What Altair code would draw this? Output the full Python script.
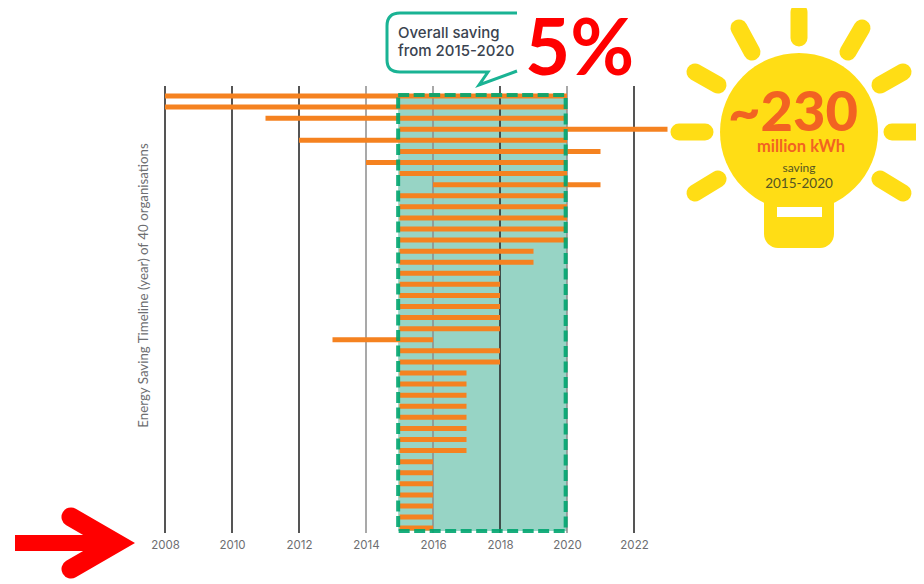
import altair as alt
import pandas as pd

# ---- values ----
rows = list(range(1, 41))
start_years = [2008, 2008, 2011, 2015, 2012, 2015, 2014, 2015, 2016, 2015,
               2015, 2015, 2015, 2015, 2015, 2015, 2015, 2015, 2015, 2015,
               2015, 2015, 2013, 2015, 2015, 2015, 2015, 2015, 2015, 2015,
               2015, 2015, 2015, 2015, 2015, 2015, 2015, 2015, 2015, 2015]
end_years = [2020, 2020, 2020, 2023, 2020, 2021, 2020, 2020, 2021, 2020,
             2020, 2020, 2020, 2020, 2019, 2019, 2018, 2018, 2018, 2018,
             2018, 2018, 2016, 2018, 2018, 2017, 2017, 2017, 2017, 2017,
             2017, 2017, 2017, 2016, 2016, 2016, 2016, 2016, 2016, 2016]
tick_years = [2008, 2010, 2012, 2014, 2016, 2018, 2020, 2022]
heavy_years = [2008, 2010, 2012, 2022]
light_years = [2014, 2016, 2020]
dark_years = [2018]
window_start = [2014.96]
window_end = [2019.96]
window_top = [0.91]
window_bottom = [40.26]

bars = pd.DataFrame({"row": rows, "start": start_years, "end": end_years})
window = pd.DataFrame({"a": window_start, "b": window_end, "t": window_top, "u": window_bottom})

PAD_L, PAD_T = 157, 78
W, H = 502.5, 447
ORANGE = "#f58220"
TEAL = "#97d4c5"
YELLOW = "#ffdd15"
HOT = "#f26322"
FONT = "Lato"

xs = alt.Scale(domain=[2008, 2023], nice=False, zero=False)
ys = alt.Scale(domain=[0.097, 40.44], nice=False, zero=False, reverse=True)
xaxis = alt.Axis(values=tick_years, format="d", title=None, grid=False, ticks=False, domain=False,
                 labelFont="Inter", labelFontSize=11.5, labelColor="#6d6e71", labelPadding=6, labelBaseline="top",
                 labelFlush=False, labelOverlap=False)
yaxis = alt.Axis(title="Energy Saving Timeline (year) of 40 organisations", labels=False, ticks=False,
                 domain=False, grid=False, titleX=-15, titleY=199, titleFont=FONT, titleFontSize=13.3,
                 titleFontWeight="normal", titleColor="#6d6e71", titleAngle=270, titleBaseline="bottom")


def px(v):
    return v - 8 - PAD_L


def py(v):
    return v - 8 - PAD_T


def grid(years, color, width):
    return alt.Chart(pd.DataFrame({"year": years})).mark_rule(color=color, strokeWidth=width).encode(
        x=alt.X("year:Q", scale=xs, axis=xaxis))


def seg(x1, y1, x2, y2, color, width, cap="round"):
    return alt.Chart().mark_rule(color=color, strokeWidth=width, strokeCap=cap).encode(
        x=alt.value(px(x1)), x2=alt.value(px(x2)), y=alt.value(py(y1)), y2=alt.value(py(y2)))


def box(x1, y1, x2, y2, color, radius=0):
    return alt.Chart().mark_rect(color=color, cornerRadius=radius).encode(
        x=alt.value(px(x1)), x2=alt.value(px(x2)), y=alt.value(py(y1)), y2=alt.value(py(y2)))


def label(txt, x, y, size, color, weight="normal", align="center", font=FONT):
    return alt.Chart().mark_text(text=txt, fontSize=size, color=color, fontWeight=weight, align=align,
                                 baseline="alphabetic", font=font).encode(
        x=alt.value(px(x)), y=alt.value(py(y)))


def path(d, x, y, color, width, **kw):
    return alt.Chart().mark_point(shape=d, size=4, filled=False, stroke=color, strokeWidth=width, opacity=1, **kw).encode(
        x=alt.value(px(x)), y=alt.value(py(y)))


shade = alt.Chart(window).mark_rect(color=TEAL).encode(
    x=alt.X("a:Q", scale=xs, axis=xaxis), x2=alt.value(px(567)),
    y=alt.Y("t:Q", scale=ys, axis=yaxis), y2="u:Q")

bar_layer = alt.Chart(bars).mark_rule(color=ORANGE, strokeWidth=5).encode(
    x=alt.X("start:Q", scale=xs, axis=xaxis), x2="end:Q",
    y=alt.Y("row:Q", scale=ys, axis=yaxis))

dashed = alt.Chart(window).mark_rect(fillOpacity=0, stroke="#00a56f", strokeWidth=4,
                                     strokeDash=[11, 4.5], strokeOpacity=0.9).encode(
    x=alt.X("a:Q", scale=xs, axis=xaxis), x2="b:Q",
    y=alt.Y("t:Q", scale=ys, axis=yaxis), y2="u:Q")

layers = [
    shade,
    grid(heavy_years, "#555555", 2),
    grid(light_years, "#8c8c8c", 1.5),
    grid(dark_years, "#222222", 1.5),
    bar_layer,
    dashed,
    # callout
    path("M130 0 H13 Q0 0 0 13 V47 Q0 59 13 59 H101 L92 72 L130 58", 387, 13, "#1ab394", 3),
    label("Overall saving", 398, 38, 15, "#3a4350", 500, "left", "Inter"),
    label("from 2015-2020", 398, 56, 15, "#3a4350", 500, "left", "Inter"),
    label("5%", 525, 75, 78, "#ff0000", "bold", "left", "Lato"),
    # arrow
    seg(15, 543, 105, 543, "#ff0000", 16, "butt"),
    path("M0 -26 L45 0 L0 26", 71, 543, "#ff0000", 19, strokeCap="round", strokeJoin="miter"),
]

# light bulb rays
for x1, y1, x2, y2 in [(799, 12, 799, 38), (862, 28, 848, 52), (739, 28, 752, 52),
                       (903, 72, 880, 85), (695, 72, 718, 85), (892, 132, 916, 132),
                       (679, 132, 705, 132), (695, 193, 718, 179), (903, 193, 880, 179)]:
    layers.append(seg(x1, y1, x2, y2, YELLOW, 17))

layers += [
    alt.Chart().mark_circle(color=YELLOW, size=158 ** 2, opacity=1).encode(x=alt.value(px(799)), y=alt.value(py(132))),
    box(764, 180, 834, 248, YELLOW, 14),
    box(777, 207, 822, 217, "#ffffff"),
    label("~230", 793, 131, 56, HOT, 900),
    label("million kWh", 801, 152, 16.5, HOT, "bold"),
    label("saving", 799, 172, 12, "#555522"),
    label("2015-2020", 799, 188, 13.5, "#555522"),
]

chart = alt.layer(*layers).properties(
    width=W, height=H, autosize="none",
    padding={"left": PAD_L, "top": PAD_T, "right": 908 - PAD_L - W, "bottom": 572 - PAD_T - H},
    background="white",
).configure_view(stroke=None)

chart.save("out.html", embed_options={"renderer": "svg", "actions": False})
